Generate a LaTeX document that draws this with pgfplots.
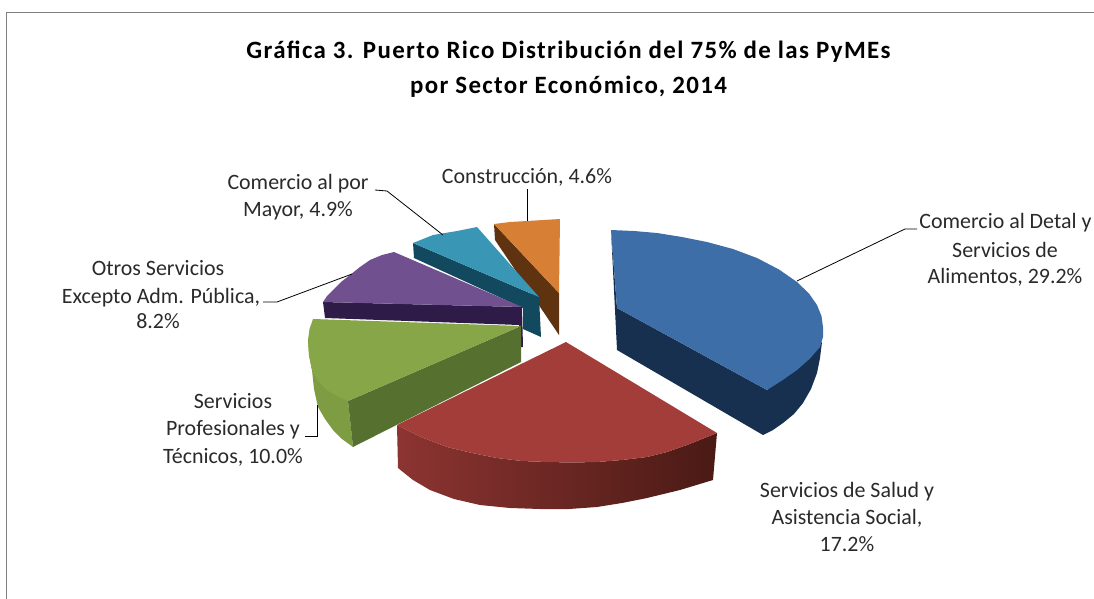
\documentclass[border=0pt]{standalone}
\usepackage{pgfplots}
\pgfplotsset{compat=1.18}
\usepackage{fontspec}
\setmainfont{Carlito}
\newfontfamily\titlefont[LetterSpace=5.5]{Carlito}
% Distribution shown: Comercio al Detal 29.2, Salud 17.2, Profesionales 10.0, Otros 8.2, Mayor 4.9, Construccion 4.6
\definecolor{cOr}{HTML}{D67F35}\definecolor{cOrS}{HTML}{5F3210}
\definecolor{cTe}{HTML}{3A96B5}\definecolor{cTeS}{HTML}{12495E}
\definecolor{cPu}{HTML}{70508F}\definecolor{cPuS}{HTML}{2E1B48}
\definecolor{cGr}{HTML}{87A647}\definecolor{cGrS}{HTML}{55702F}\definecolor{cGrO}{HTML}{7E9C42}
\definecolor{cRe}{HTML}{A33D3A}\definecolor{cReA}{HTML}{8C3431}\definecolor{cReB}{HTML}{4A1A15}
\definecolor{cBl}{HTML}{3E6EA8}\definecolor{cBlS}{HTML}{17304F}
\definecolor{txt}{HTML}{2A2A2A}
\tikzset{lab/.style={font=\fontsize{22}{26}\selectfont,text=txt,inner sep=0pt,anchor=base},
 ttl/.style={font=\titlefont\fontsize{25}{28}\selectfont\bfseries,text=black,inner sep=0pt,anchor=base}}
\begin{document}
\begin{tikzpicture}
\path[use as bounding box] (0,0) rectangle (1094bp,599bp);
\begin{axis}[at={(0,0)},anchor=south west,scale only axis,width=1094bp,height=599bp,
  xmin=0,xmax=1094,ymin=0,ymax=599,y dir=reverse,axis lines=none,clip=false]
% frame
\addplot[gray,line width=1pt,no marks] coordinates {(6.5,599)(6.5,12.5)(1094,12.5)};
% orange
\addplot[fill=cOrS,draw=none,no marks] coordinates {(494,224)(559,293)(559,335)(495,240)} --cycle;
\addplot[fill=cOr,draw=none,no marks] coordinates {(494,224)(510,222)(527,221)(560,219)(559,293)} --cycle;
% teal
\addplot[fill=cTeS,draw=none,no marks] coordinates {(413,243)(539,297)(541,337)(523,329)(523,308)(414,258)} --cycle;
\addplot[fill=cTe,draw=none,no marks] coordinates {(413,243)(433,235)(457,231)(477,227)(539,297)} --cycle;
% purple
\addplot[fill=cPuS,draw=none,no marks] coordinates {(323,302)(522,307)(523,347)(520,347)(519,325)(325,318)} --cycle;
\addplot[fill=cPu,draw=none,no marks] coordinates {(394,252)(382,255)(370,260)(360,267)(350,275)(341,282)(333,290)(327,296)(323,302)(522,307)} --cycle;
% green
\addplot[fill=cGrO,draw=none,no marks] coordinates {(308,340)(309,355)(312,370)(314,389)(318,407)(325,419)(333,430)(342,439)(353,447)(348,401)} --cycle;
\addplot[fill=cGrS,draw=none,no marks] coordinates {(348,401)(521,326)(521,362)(353,447)} --cycle;
\addplot[fill=cGr,draw=none,no marks] coordinates {(521,326)(313,319)(309.5,329)(308,340)(309,355)(312,370)(318,381)(327,390)(337,396)(348,401)} --cycle;
% red
\addplot[left color=cReA,right color=cReB,draw=none,no marks] coordinates {(397,425)(398,468)(413,480)(430,490)(454,499)(480,505)(510,508)(540,509)(569,509)(597,507)(622,503)(647,498)(680,490)(713,480)(717,433)(702,439)(687,445)(667,452)(647,457)(622,460)(597,462)(572,462.5)(547,462)(522,461)(497,458)(472,453)(447,447)(421,437)} --cycle;
\addplot[fill=cRe,draw=none,no marks] coordinates {(566,342)(397,425)(421,437)(447,447)(472,453)(497,458)(522,461)(547,462)(572,462.5)(597,462)(622,460)(647,457)(667,452)(687,445)(702,439)(717,433)} --cycle;
% blue
\addplot[fill=cBlS,draw=none,no marks] coordinates {(611,230)(617,308)(767,390)(822,342)(820,358)(817,373)(811,389)(803,403)(794,414)(783,423)(773,430)(763,435)(617,350)} --cycle;
\addplot[fill=cBl,draw=none,no marks] coordinates {(611,230)(634,231)(657,233)(682,237)(707,242)(733,249)(757,258)(779,269.5)(797,282)(809,293.5)(817,305)(821.5,316)(823,327)(823,337)(820,347)(810,358.5)(797,370)(782,380.5)(767,390)(617,308)} --cycle;
% leaders
\addplot[black,line width=0.8pt,no marks] coordinates {(797,281)(905,229)(917,229)};
\addplot[black,line width=0.8pt,no marks] coordinates {(317,405)(317,436)(305,436)};
\addplot[black,line width=0.8pt,no marks] coordinates {(352,274)(277,302)(263,302)};
\addplot[black,line width=0.8pt,no marks] coordinates {(443,235)(387,191)(375,190)};
\addplot[black,line width=0.8pt,no marks] coordinates {(527,221)(527,189)};
% title
\node[ttl] at (axis cs:568.5,59) {Gráfica 3. Puerto Rico Distribución del 75\% de las PyMEs};
\node[ttl] at (axis cs:568.5,93) {por Sector Económico, 2014};
% labels
\node[lab] at (axis cs:527,183) {Construcción, 4.6\%};
\node[lab] at (axis cs:298,189) {Comercio al por};
\node[lab] at (axis cs:298,216) {Mayor, 4.9\%};
\node[lab] at (axis cs:158,275) {Otros Servicios};
\node[lab] at (axis cs:161,303) {Excepto Adm. Pública,};
\node[lab] at (axis cs:158,328) {8.2\%};
\node[lab] at (axis cs:233,408) {Servicios};
\node[lab] at (axis cs:233,435) {Profesionales y};
\node[lab] at (axis cs:233,463) {Técnicos, 10.0\%};
\node[lab] at (axis cs:847,497) {Servicios de Salud y};
\node[lab] at (axis cs:847,524) {Asistencia Social,};
\node[lab] at (axis cs:847,551) {17.2\%};
\node[lab] at (axis cs:1005.5,228) {Comercio al Detal y};
\node[lab] at (axis cs:1005,257) {Servicios de};
\node[lab] at (axis cs:1005,283) {Alimentos, 29.2\%};
\end{axis}
\end{tikzpicture}
\end{document}
